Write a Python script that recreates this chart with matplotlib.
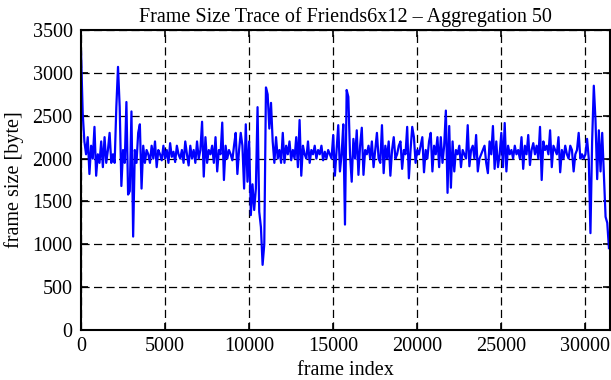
import matplotlib.pyplot as plt
import numpy as np

# frame size averaged over blocks, sampled every 100 frames
step = 100
frame_size = [
    3250, 2530, 2200, 2050, 2250, 1820, 2150, 2000, 2370, 1800,
    2050, 1950, 2200, 1900, 2250, 1950, 2100, 2300, 1950, 2050,
    1950, 2600, 3070, 2600, 1680, 2100, 1950, 2660, 1580, 1620,
    2550, 1090, 2100, 1950, 2300, 2400, 1650, 2150, 1950, 2100,
    2050, 1950, 2150, 2000, 2200, 1900, 2100, 2050, 1980, 2150,
    2000, 2100, 1950, 2180, 2020, 2080, 1960, 2150, 2050, 2000,
    2100, 1950, 2200, 2050, 1920, 2150, 2000, 2100, 1950, 2200,
    2000, 2100, 2430, 1790, 2250, 1950, 2100, 2050, 2150, 1950,
    2250, 1850, 2100, 2050, 2420, 1750, 2150, 2000, 2100, 2050,
    1980, 2150, 2300, 1820, 2100, 2300, 2150, 1650, 2400, 1730,
    2200, 1340, 1700, 1400, 1650, 2600, 1380, 1200, 760, 1000,
    2830, 2750, 2350, 2650, 2200, 1950, 2250, 2000, 2100, 1950,
    2300, 1950, 2150, 2050, 2200, 1980, 2100, 2000, 2250, 1900,
    2450, 1800, 2150, 2050, 2000, 2200, 1950, 2100, 2050, 2150,
    2000, 2100, 2050, 2150, 1980, 2080, 2000, 2100, 2050, 2000,
    2275, 1800, 2100, 2390, 1850, 2050, 2400, 1230, 2800, 2720,
    2050, 1730, 2230, 2000, 2330, 1810, 2150, 2360, 1810, 2100,
    2050, 2150, 2000, 2200, 1900, 2100, 2300, 2000, 1950, 2390,
    1830, 2150, 2000, 2200, 1800, 2100, 2250, 2000, 2050, 2150,
    2200, 1880, 2100, 2050, 2370, 1770, 2100, 2370, 2250, 1950,
    2100, 2050, 2150, 2250, 1840, 2100, 2000, 2200, 2300, 1850,
    2150, 2050, 2250, 1900, 2250, 1950, 2150, 2560, 1600, 2380,
    1660, 2200, 1850, 2100, 2050, 2150, 1900, 2100, 2050, 2000,
    2390, 1910, 2100, 2150, 2000, 2275, 1850, 2000, 2050, 2100,
    2150, 1950, 1830, 2200, 2050, 2380, 1880, 2200, 1900, 2050,
    2300, 1900, 2415, 1850, 2150, 2050, 2100, 2000, 2150, 2050,
    2100, 2000, 2250, 1880, 2150, 2050, 2275, 1925, 2100, 2180,
    2050, 2150, 2000, 2370, 1750, 2200, 2100, 2150, 2050, 2330,
    1900, 2150, 2100, 2050, 2250, 1840, 2100, 2000, 2150, 2050,
    2000, 2150, 2100, 1850, 2050, 2100, 2300, 2000, 2050, 2000,
    2050, 2230, 2000, 1130, 2200, 2850, 2450, 1760, 2330, 1850,
    2300, 1800, 1320, 1250, 955,
]
frame_index = np.arange(len(frame_size)) * step

plt.rcParams['font.family'] = ['Liberation Serif', 'DejaVu Serif']

fig = plt.figure(figsize=(6.11, 3.8), dpi=100)
ax = fig.add_axes([0.1326, 0.1316, 0.8654, 0.7894])

ax.plot(frame_index, frame_size, color='#0000ff', linewidth=1.6)

ax.set_xlim(0, 31450)
ax.set_ylim(0, 3500)
ax.set_xticks(np.arange(0, 31000, 5000))
ax.set_yticks(np.arange(0, 3501, 500))
ax.grid(True, color='black', linestyle=(0, (6.5, 3.5)), linewidth=0.9)
ax.tick_params(direction='in', top=True, right=True, length=5, width=1.2,
               labelsize=14.5)
ax.tick_params(axis='y', pad=6)
ax.tick_params(axis='x', pad=5)
for s in ax.spines.values():
    s.set_linewidth(1.5)

ax.set_title('Frame Size Trace of Friends6x12 \u2013 Aggregation 50', fontsize=14.5, pad=6)
ax.set_xlabel('frame index', fontsize=14.5, labelpad=4)
ax.set_ylabel('frame size [byte]', fontsize=14.5, labelpad=6)

plt.savefig('out.png', dpi=100)
